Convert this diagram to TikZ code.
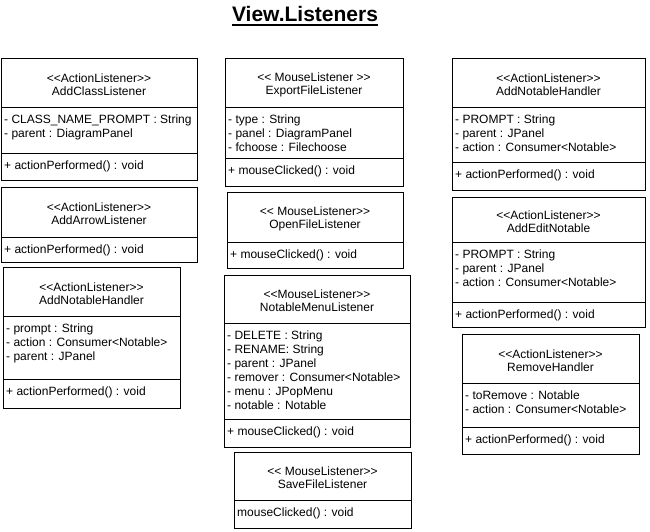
\documentclass[tikz,border=0pt]{standalone}
\usepackage{fontspec}
\setmainfont{Liberation Sans}[Ligatures=TeXOff]
\newcommand\umlbox[7]{%
  \draw[box] (#2,#3) rectangle (#4,#5);
  \draw[box] (#2,#6) -- (#4,#6);
  \node[hdr] (#1-h) at ({(#2+#4)/2},{(#3+#6)/2+2}) {#7};
}
\newcommand\umlsec[5]{%
  \draw[box] (#2,#4) -- (#3,#4);
  \node[sec] (#1) at ({#2+3},{#4+8}) {#5};
}
\begin{document}
\begin{tikzpicture}[x=1pt,y=-1pt,
  box/.style={draw=black,line width=1pt},
  hdr/.style={align=center,inner sep=0pt,font=\fontsize{12}{13}\selectfont},
  sec/.style={align=left,inner sep=0pt,anchor=north west,font=\fontsize{12}{14}\selectfont}]
\fill[white] (0,0) rectangle (650,531);
\useasboundingbox (0,0) rectangle (650,531);

\node[anchor=base,inner sep=0pt,font=\fontsize{21}{24}\selectfont\bfseries] (title) at (305,21) {View.Listeners};
\draw[line width=2pt] ([yshift=-3.5pt]title.base west) -- ([yshift=-3.5pt]title.base east);

% left column
\umlbox{c1}{1}{58}{197}{180}{107}{<<ActionListener>>\\AddClassListener}
\umlsec{c1-a}{1}{197}{107}{- CLASS\_NAME\_PROMPT : String\\- parent : DiagramPanel}
\umlsec{c1-m}{1}{197}{153}{+ actionPerformed() : void}

\umlbox{c2}{1}{187}{197}{262}{237}{<<ActionListener>>\\AddArrowListener}
\umlsec{c2-m}{1}{197}{237}{+ actionPerformed() : void}

\umlbox{c3}{3}{267}{180}{408}{316}{<<ActionListener>>\\AddNotableHandler}
\umlsec{c3-a}{3}{180}{316}{- prompt : String\\- action : Consumer<Notable>\\- parent : JPanel}
\umlsec{c3-m}{3}{180}{379}{+ actionPerformed() : void}

% middle column
\umlbox{c4}{225}{58}{403}{186}{107}{<< MouseListener >>\\ExportFileListener}
\umlsec{c4-a}{225}{403}{107}{- type : String\\- panel : DiagramPanel\\- fchoose : Filechoose}
\umlsec{c4-m}{225}{403}{158}{+ mouseClicked() : void}

\umlbox{c5}{227}{192}{403}{268}{242}{<< MouseListener>>\\OpenFileListener}
\umlsec{c5-m}{227}{403}{242}{+ mouseClicked() : void}

\umlbox{c6}{224}{275}{410}{447}{323}{<<MouseListener>>\\NotableMenuListener}
\umlsec{c6-a}{224}{410}{323}{- DELETE : String\\- RENAME: String\\- parent : JPanel\\- remover : Consumer<Notable>\\- menu : JPopMenu\\- notable : Notable}
\umlsec{c6-m}{224}{410}{419}{+ mouseClicked() : void}

\umlbox{c7}{234}{452}{411}{528}{500}{<< MouseListener>>\\SaveFileListener}
\umlsec{c7-m}{234}{411}{500}{mouseClicked() : void}

% right column
\umlbox{c8}{452}{58}{645}{190}{107}{<<ActionListener>>\\AddNotableHandler}
\umlsec{c8-a}{452}{645}{107}{- PROMPT : String\\- parent : JPanel\\- action : Consumer<Notable>}
\umlsec{c8-m}{452}{645}{162}{+ actionPerformed() : void}

\umlbox{c9}{452}{197}{645}{327}{242}{<<ActionListener>>\\AddEditNotable}
\umlsec{c9-a}{452}{645}{242}{- PROMPT : String\\- parent : JPanel\\- action : Consumer<Notable>}
\umlsec{c9-m}{452}{645}{302}{+ actionPerformed() : void}

\umlbox{c10}{462}{334}{639}{454}{383}{<<ActionListener>>\\RemoveHandler}
\umlsec{c10-a}{462}{639}{383}{- toRemove : Notable\\- action : Consumer<Notable>}
\umlsec{c10-m}{462}{639}{427}{+ actionPerformed() : void}
\end{tikzpicture}
\end{document}
